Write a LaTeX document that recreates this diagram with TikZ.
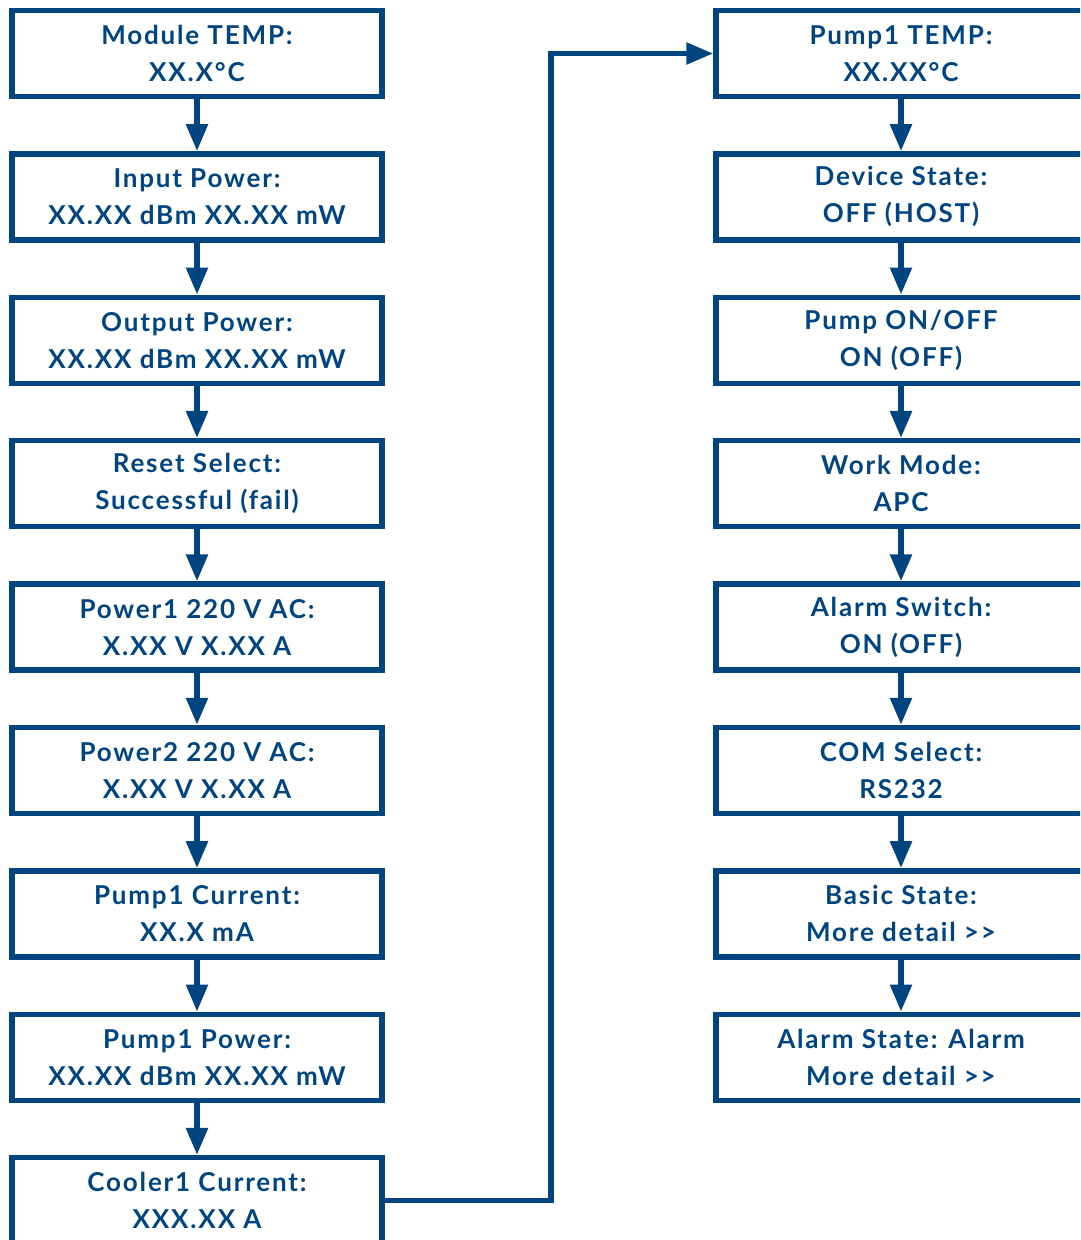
\documentclass[tikz,border=0pt]{standalone}
\usepackage{fontspec}
\setmainfont{Lato}[LetterSpace=7]
\usetikzlibrary{arrows.meta}
\definecolor{navy}{RGB}{0,69,127}
\begin{document}
\begin{tikzpicture}[x=1pt,y=-1pt,
  box/.style={draw=navy, line width=5.5pt, minimum width=370pt, minimum height=86pt,
    inner sep=0pt, align=center, text=navy, font=\fontsize{26}{37}\selectfont\bfseries},
  flow/.style={draw=navy, line width=5.5pt, -{Triangle[length=27pt,width=21pt]}}]
\useasboundingbox (0,0) rectangle (1080,1240);
\clip (0,0) rectangle (1080,1240);
\fill[white] (0,0) rectangle (1080,1240);
% left column
\node[box] (L1) at (197,53.5) {Module TEMP:\\XX.X°C};
\node[box] (L2) at (197,196.9) {Input Power:\\XX.XX dBm XX.XX mW};
\node[box] (L3) at (197,340.3) {Output Power:\\XX.XX dBm XX.XX mW};
\node[box] (L4) at (197,483.7) {Reset Select:\\Successful (fail)};
\node[box] (L5) at (197,627.1) {Power1 220 V AC:\\X.XX V X.XX A};
\node[box] (L6) at (197,770.5) {Power2 220 V AC:\\X.XX V X.XX A};
\node[box] (L7) at (197,913.9) {Pump1 Current:\\XX.X mA};
\node[box] (L8) at (197,1057.3) {Pump1 Power:\\XX.XX dBm XX.XX mW};
\node[box] (L9) at (197,1200.7) {Cooler1 Current:\\XXX.XX A};
% right column
\node[box] (R1) at (901,53.5) {Pump1 TEMP:\\XX.XX°C};
\node[box] (R2) at (901,196.9) {Device State:\\OFF (HOST)};
\node[box] (R3) at (901,340.3) {Pump ON/OFF\\ON (OFF)};
\node[box] (R4) at (901,483.7) {Work Mode:\\APC};
\node[box] (R5) at (901,627.1) {Alarm Switch:\\ON (OFF)};
\node[box] (R6) at (901,770.5) {COM Select:\\RS232};
\node[box] (R7) at (901,913.9) {Basic State:\\More detail >{}>};
\node[box] (R8) at (901,1057.3) {Alarm State: Alarm\\More detail >{}>};
% arrows
\foreach \a/\b in {L1/L2,L2/L3,L3/L4,L4/L5,L5/L6,L6/L7,L7/L8,L8/L9,
                   R1/R2,R2/R3,R3/R4,R4/R5,R5/R6,R6/R7,R7/R8}
  \draw[flow] (\a.south) -- (\b.north);
\draw[flow] (L9.east) -- ++(166,0) |- (R1.west);
\end{tikzpicture}
\end{document}
